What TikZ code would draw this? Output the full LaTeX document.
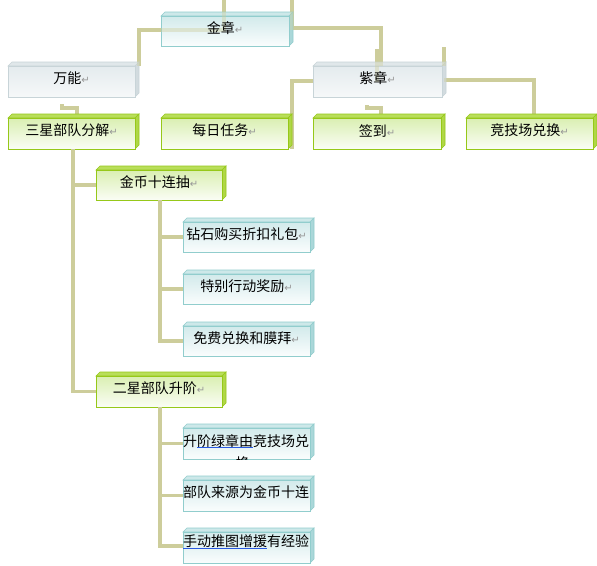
\documentclass[tikz,border=0pt]{standalone}
\usepackage{fontspec}
\setmainfont{Noto Sans CJK SC}
\newfontfamily\dejavu{DejaVu Sans}
\usetikzlibrary{calc}
\definecolor{lk}{RGB}{205,205,155}
\definecolor{rtg}{RGB}{150,150,150}
\definecolor{ulblue}{RGB}{40,90,225}
\definecolor{tealB}{RGB}{145,205,205}
\definecolor{tealT}{RGB}{210,234,235}
\definecolor{tealW}{RGB}{250,253,253}
\definecolor{tealTop}{RGB}{205,232,233}
\definecolor{tealSide}{RGB}{170,215,217}
\definecolor{grayB}{RGB}{200,212,216}
\definecolor{grayT}{RGB}{228,235,238}
\definecolor{grayW}{RGB}{246,248,249}
\definecolor{grayTop}{RGB}{224,231,234}
\definecolor{graySide}{RGB}{210,219,223}
\definecolor{greenB}{RGB}{150,200,25}
\definecolor{greenT}{RGB}{218,239,178}
\definecolor{greenW}{RGB}{250,253,245}
\definecolor{greenTop}{RGB}{185,222,90}
\definecolor{greenSide}{RGB}{175,215,70}
\newcommand\rt{{\dejavu\fontsize{10}{12}\selectfont\color{rtg}↵}}
\tikzset{
  conn/.style={draw=lk, line width=3.5pt},
  ghost/.style={draw=lk, line width=3.5pt, draw opacity=0.4},
  tealbox/.style={draw=tealB, line width=0.8pt, top color=tealT, bottom color=tealW},
  tealface/.style={draw=tealB, line width=0.6pt, fill=tealTop},
  tealside/.style={draw=tealB, line width=0.6pt, fill=tealSide},
  graybox/.style={draw=grayB, line width=0.8pt, top color=grayT, bottom color=grayW},
  grayface/.style={draw=grayB, line width=0.6pt, fill=grayTop},
  grayside/.style={draw=grayB, line width=0.6pt, fill=graySide},
  greenbox/.style={draw=greenB, line width=0.8pt, top color=greenT, bottom color=greenW},
  greenface/.style={draw=greenB, line width=0.6pt, fill=greenTop},
  greenside/.style={draw=greenB, line width=0.6pt, fill=greenSide},
  txt/.style={inner sep=0pt, font=\fontsize{14}{18}\selectfont, text=black},
  ul/.style={draw=ulblue, line width=1.4pt}
}
% #1 kind, #2 name, #3 x1, #4 y1, #5 x2, #6 y2, #7 text
\newcommand\cubebox[7]{%
  \path[#1face] (#3,#4) -- ({#3+4},{#4-4}) -- ({#5+4},{#4-4}) -- (#5,#4) -- cycle;
  \path[#1side] (#5,#4) -- ({#5+4},{#4-4}) -- ({#5+4},{#6-4}) -- (#5,#6) -- cycle;
  \node[#1box, inner sep=0pt, outer sep=0pt, minimum width={(#5-#3)*1pt}, minimum height={(#6-#4)*1pt}] (#2) at ({(#3+#5)/2},{(#4+#6)/2}) {};
}
\newcommand\boxtext[2]{\node[txt] (#1-t) at ([yshift=3pt]#1.center) {#2};}
\begin{document}
\begin{tikzpicture}[x=1pt,y=-1pt]
\useasboundingbox (0,0) rectangle (597,565);
\fill[white] (0,0) rectangle (597,565);
% ---------- connectors (behind boxes) ----------
\coordinate (t1) at (224,0);
\coordinate (t2) at (292,0);
\coordinate (wn) at (139,66);
\coordinate (zza) at (381,66);
\coordinate (zzb) at (377,49);
\coordinate (zzb2) at (377,82);
\coordinate (zzc) at (444,47);
\coordinate (zzc2) at (444,66);
\coordinate (mr) at (292,149);
\coordinate (jj) at (534,118);
\coordinate (wns) at (62,104);
\coordinate (sxn) at (77,118);
\coordinate (zzs) at (367,105);
\coordinate (qdn) at (381,118);
\draw[conn] (t1) -- (224,30) -| (wn);
\draw[conn] (t2) -- (292,28) -| (zza);
\draw[conn] (zzb) -- (zzb2);
\draw[conn] (zzc) -- (zzc2);
\draw[conn] (444,80) -| (jj);
\draw[conn] (313,81) -| (mr);
\draw[conn] (wns) |- (77,108) -- (sxn);
\draw[conn] (zzs) |- (381,108) -- (qdn);
% ---------- boxes ----------
\cubebox{teal}{jinzhang}{161}{16}{289}{46}{}
\cubebox{gray}{wanneng}{8}{66}{135}{97}{}
\cubebox{gray}{zizhang}{313}{66}{442}{97}{}
% faint lines seen through the translucent boxes
\draw[ghost] (t1) -- (224,30) -| (wn);
\draw[ghost] (t2) -- (292,28) -| (zza);
\draw[ghost] (zzb) -- (zzb2);
\draw[ghost] (zzc) -- (zzc2);
\draw[ghost] (444,80) -| (jj);
\draw[ghost] (313,81) -| (mr);
\boxtext{jinzhang}{金章\rt}
\boxtext{wanneng}{万能\rt}
\boxtext{zizhang}{紫章\rt}
\cubebox{green}{sanxing}{8}{118}{135}{149}{}
\boxtext{sanxing}{三星部队分解\rt}
\cubebox{green}{meiri}{161}{118}{288}{149}{}
\boxtext{meiri}{每日任务\rt}
\cubebox{green}{qiandao}{313}{118}{441}{149}{}
\boxtext{qiandao}{签到\rt}
\cubebox{green}{jingji}{466}{118}{593}{149}{}
\boxtext{jingji}{竞技场兑换\rt}
\cubebox{green}{jinbi}{96}{170}{222}{200}{}
\boxtext{jinbi}{金币十连抽\rt}
\cubebox{green}{erxing}{96}{376}{222}{407}{}
\boxtext{erxing}{二星部队升阶\rt}
% tree connectors
\draw[conn] ([xshift=1.5pt]sanxing.south) |- (jinbi.west);
\draw[conn] ([xshift=1.5pt]sanxing.south) |- (erxing.west);
\draw[conn] ([xshift=1pt]jinbi.south) |- (183,237);
\draw[conn] ([xshift=1pt]jinbi.south) |- (183,289);
\draw[conn] ([xshift=1pt]jinbi.south) |- (183,341);
\draw[conn] ([xshift=1pt]erxing.south) |- (183,443.5);
\draw[conn] ([xshift=1pt]erxing.south) |- (183,495.5);
\draw[conn] ([xshift=1pt]erxing.south) |- (183,546);
\cubebox{teal}{zuanshi}{183}{222}{310}{252}{}
\boxtext{zuanshi}{钻石购买折扣礼包\rt}
\cubebox{teal}{tebie}{183}{274}{310}{304}{}
\boxtext{tebie}{特别行动奖励\rt}
\cubebox{teal}{mianfei}{183}{326}{310}{356}{}
\boxtext{mianfei}{免费兑换和膜拜\rt}
\cubebox{teal}{shengjie}{183}{428}{310}{459}{}
\cubebox{teal}{budui}{183}{480}{310}{511}{}
\cubebox{teal}{shoudong}{183}{532}{310}{563}{}
\begin{scope}
  \clip (shengjie.south west) rectangle (shengjie.north east);
  \node[txt, anchor=west] (sj1) at (183,441) {升阶绿章由竞技场兑};
  \node[txt] (sj2) at (247,463) {换\rt};
  \draw[ul] (197,447.5) -- (253,447.5);
\end{scope}
\begin{scope}
  \clip (budui.south west) rectangle (budui.north east);
  \node[txt, anchor=west] (bd1) at (183,492) {部队来源为金币十连};
\end{scope}
\begin{scope}
  \clip (shoudong.south west) rectangle (shoudong.north east);
  \node[txt, anchor=west] (sd1) at (183,541.5) {手动推图增援有经验};
  \draw[ul] (183,548.5) -- (267,548.5);
\end{scope}
\end{tikzpicture}
\end{document}
